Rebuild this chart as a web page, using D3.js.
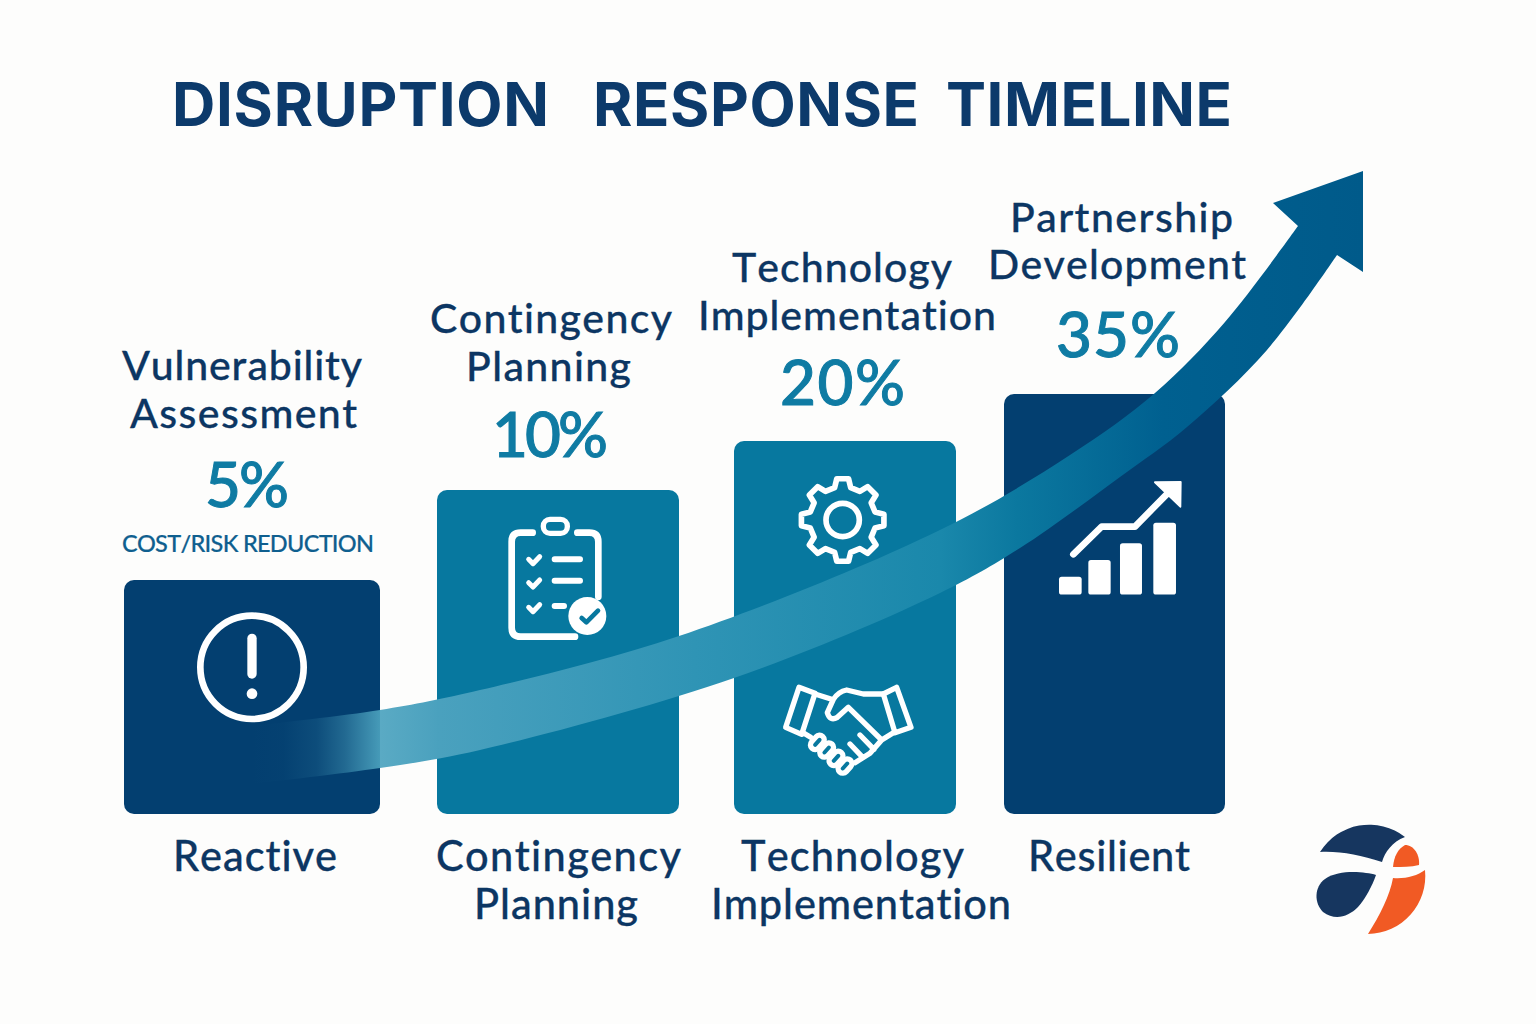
<!DOCTYPE html>
<html><head><meta charset="utf-8">
<script src="https://cdn.jsdelivr.net/npm/d3@7/dist/d3.min.js"></script>
<style>html,body{margin:0;padding:0;background:#fdfdfc}svg{display:block}text{font-family:Lato,sans-serif;white-space:pre;font-variant-ligatures:none;font-kerning:none}</style>
</head><body><svg id="c" width="1536" height="1024"></svg>
<script>
// ---------- data ----------
const titleWords = ["DISRUPTION", "RESPONSE", "TIMELINE"];
const stages = ["Reactive", "Contingency Planning", "Technology Implementation", "Resilient"];
const reductions = [5, 10, 20, 35];
const milestoneLines = [["Vulnerability","Assessment"],["Contingency","Planning"],["Technology","Implementation"],["Partnership","Development"]];
const stageLines = [["Reactive"],["Contingency","Planning"],["Technology","Implementation"],["Resilient"]];
const metricLabel = "COST/RISK REDUCTION";
const barTones = ["dark","teal","teal","dark"];

// ---------- layout ----------
const NAVY="#0c3663", PCT="#0f7ba3", baseY=814;
const svg=d3.select("#c");
const defs=svg.append("defs");
const y=d3.scaleLinear().domain(reductions).range([580,490,441,394]);
const xL=d3.scaleOrdinal().domain(stages).range([124,437,734,1004]);
const xR=d3.scaleOrdinal().domain(stages).range([380,679,956,1225]);
const tone=d3.scaleOrdinal().domain(["dark","teal"]).range(["#033f70","#07789f"]);

svg.append("rect").attr("width",1536).attr("height",1024).attr("fill","#fdfdfc");

function fitted(g,s,x0,x1,base,size,fill,weight,thick){
  return g.append("text").text(s).attr("x",x0).attr("y",base).attr("font-size",size)
   .attr("fill",fill).attr("font-weight",weight).attr("textLength",x1-x0).attr("lengthAdjust","spacing")
   .attr("stroke",thick?fill:"none").attr("stroke-width",thick||0);
}
// title: one text element, each word placed on its own span
const tSpan=[[172,549],[593,919],[946,1232]];
const tt=svg.append("text").attr("y",126).attr("font-size",60).attr("font-weight",700).attr("fill","#0c3a6b")
  .style("font-family","Inter, Lato, sans-serif");
titleWords.forEach((w,i)=>{
  tt.append("tspan").attr("x",tSpan[i][0]).attr("textLength",tSpan[i][1]-tSpan[i][0]).attr("lengthAdjust","spacing").text(w);
  if(i<2) tt.append("tspan").text(" ");
});

// bars
svg.append("g").selectAll("rect").data(stages).join("rect")
 .attr("x",d=>xL(d)).attr("width",d=>xR(d)-xL(d))
 .attr("y",(d,i)=>y(reductions[i])).attr("height",(d,i)=>baseY-y(reductions[i]))
 .attr("rx",10).attr("fill",(d,i)=>tone(barTones[i]));

// trend arrow
const grad=defs.append("linearGradient").attr("id","ag").attr("gradientUnits","userSpaceOnUse")
 .attr("x1",250).attr("x2",1363).attr("y1",0).attr("y2",0);
[[0,"#4ca3bf",0],[.03,"#4ca3bf",.02],[.06,"#4ca3bf",.14],[.085,"#4ca3bf",.42],[.117,"#4ca3bf",.92],[.17,"#4aa1be",1],
 [.4,"#2f94b5",1],[.62,"#1a88ab",1],[.69,"#0b789f",1],[.82,"#006090",1],[1,"#005a8a",1]]
 .forEach(s=>grad.append("stop").attr("offset",s[0]).attr("stop-color",s[1]).attr("stop-opacity",s[2]));
const upper=[[250,726],[380,710],[480,690],[679,636],[940,530],[1070,455],[1155,393],[1225,322],[1298,226]];
const lower=[[1337,255],[1267,350],[1187,427],[1120,477],[1020,548],[940,593],[734,678],[480,750],[380,768],[250,784]];
const edge=d3.line().curve(d3.curveCatmullRom.alpha(.5));
svg.append("path").attr("fill","url(#ag)")
 .attr("d",edge(upper)+"L1273,203L1363,171L1363,272L"+edge(lower).slice(1)+"Z");

// texts above bars
const mg=svg.append("g");
const mSpans=[[[122,362],[130,357]],[[430,672],[466,631]],[[732,952],[698,996]],[[1010,1233],[988,1246]]];
const mBase=[[380,428],[333,381],[282,330],[232,279]];
milestoneLines.forEach((ls,i)=>ls.forEach((s,j)=>fitted(mg,s,mSpans[i][j][0],mSpans[i][j][1],mBase[i][j],41,NAVY,500,.3)));
const pSpan=[[205,289],[492,608],[780,905],[1056,1180]], pBase=[507,457,405,357];
reductions.forEach((v,i)=>fitted(mg,v+"%",pSpan[i][0],pSpan[i][1],pBase[i],62,PCT,500,1));
fitted(mg,metricLabel,122,374,552,23.5,"#0f5f8f",500,.2);

// texts below bars
const sSpans=[[[173,337]],[[436,681],[474,638]],[[741,964],[711,1011]],[[1028,1190]]];
stageLines.forEach((ls,i)=>ls.forEach((s,j)=>fitted(mg,s,sSpans[i][j][0],sSpans[i][j][1],871+48*j,41.5,NAVY,500,.3)));

// icons
const ic=(tx,ty)=>svg.append("g").attr("transform",`translate(${tx},${ty}) scale(${1/3})`)
  .attr("fill","none").attr("stroke","#fff").attr("stroke-linecap","round").attr("stroke-linejoin","round");
// alert
const a=ic(110,570);
a.append("circle").attr("cx",426).attr("cy",292).attr("r",155).attr("stroke-width",20);
a.append("path").attr("d","M426,205V312").attr("stroke-width",28);
a.append("circle").attr("cx",426).attr("cy",371).attr("r",16).attr("fill","#fff").attr("stroke","none");
// clipboard
const b=ic(480,490);
b.append("path").attr("stroke-width",20).attr("d","M158,128H122Q95,128 95,155V413Q95,440 122,440H285M292,128H328Q355,128 355,155V320");
b.append("rect").attr("x",190).attr("y",88).attr("width",72).attr("height",42).attr("rx",20).attr("stroke-width",16);
[208,278,352].forEach(v=>b.append("path").attr("stroke-width",15).attr("d",`M146,${v}L159,${v+13}L179,${v-8}`));
b.append("path").attr("stroke-width",18).attr("d","M224,208H300M224,272H300M224,348H252");
b.append("circle").attr("cx",322).attr("cy",378).attr("r",57).attr("fill","#fff").attr("stroke","none");
b.append("path").attr("stroke","#07789f").attr("stroke-width",14).attr("d","M305,384L319,397L354,362");
// gear
const g=ic(480,490);
const cx=1088,cy=90,teeth=8,R=125,r=100;
let gp=[];
for(let i=0;i<teeth;i++){const t=i*2*Math.PI/teeth-Math.PI/2,w=Math.PI/teeth;
 [[r,-w*.62],[R,-w*.36],[R,w*.36],[r,w*.62]].forEach(p=>gp.push([cx+p[0]*Math.cos(t+p[1]),cy+p[0]*Math.sin(t+p[1])]));}
g.append("path").attr("stroke-width",17).attr("d",d3.line().curve(d3.curveLinearClosed)(gp));
g.append("circle").attr("cx",cx).attr("cy",cy).attr("r",50).attr("stroke-width",17);
// handshake
const h=ic(480,490).attr("stroke-width",16);
h.append("path").attr("d","M957,592L1005,610L965,733L917,712ZM1250,592L1210,612L1245,728L1293,712Z");
h.append("path").attr("d","M1005,612L1055,628M1210,612L1150,612L1100,600Q1075,605 1060,628L1042,668Q1050,695 1072,682L1105,652L1205,750L1170,790L1125,818M1245,725L1205,750M1140,735L1182,778M1110,762L1146,800M972,730L992,742");
[[1012,757],[1040,780],[1068,805],[1095,828]].forEach(c=>h.append("rect").attr("x",c[0]-24).attr("y",c[1]-14).attr("width",48).attr("height",28).attr("rx",14)
  .attr("transform",`rotate(-48 ${c[0]} ${c[1]})`).attr("fill","#07789f"));
// growth chart
const k=svg.append("g").attr("transform","translate(1020,160) scale(0.3333)");
[[117,1250,68],[205,1200,67],[300,1150,66],[400,1088,68]].forEach(r=>k.append("rect").attr("x",r[0]).attr("y",r[1]).attr("width",r[2]).attr("height",1304-r[1]).attr("rx",8).attr("fill","#fff"));
k.append("path").attr("fill","none").attr("stroke","#fff").attr("stroke-width",20).attr("stroke-linecap","round").attr("stroke-linejoin","round").attr("d","M160,1183L245,1100L345,1100L440,1003");
k.append("path").attr("fill","#fff").attr("stroke","#fff").attr("stroke-width",6).attr("stroke-linejoin","round").attr("d","M405,967L482,966L481,1040Z");

// logo
const lo=svg.append("g");
lo.append("path").attr("fill","#16365f").attr("d","M1320,852A58,58 0 0 1 1405,837C1392,842 1385,852 1382,862C1360,855 1340,851 1320,852Z");
lo.append("path").attr("fill","#16365f").attr("d","M1376,875C1365,872 1340,869 1325,879C1314,887 1314,903 1323,912C1335,921 1348,917 1358,907C1366,898 1372,886 1376,875Z");
lo.append("path").attr("fill","#f15a24").attr("d","M1405,845C1414,845 1420,855 1419,865C1411,867 1402,867 1393,867C1394,856 1398,849 1405,845Z");
lo.append("path").attr("fill","#f15a24").attr("d","M1425,870A58,58 0 0 1 1368,934C1380,915 1390,895 1393,878C1405,879 1417,876 1425,870Z");
</script></body></html>
